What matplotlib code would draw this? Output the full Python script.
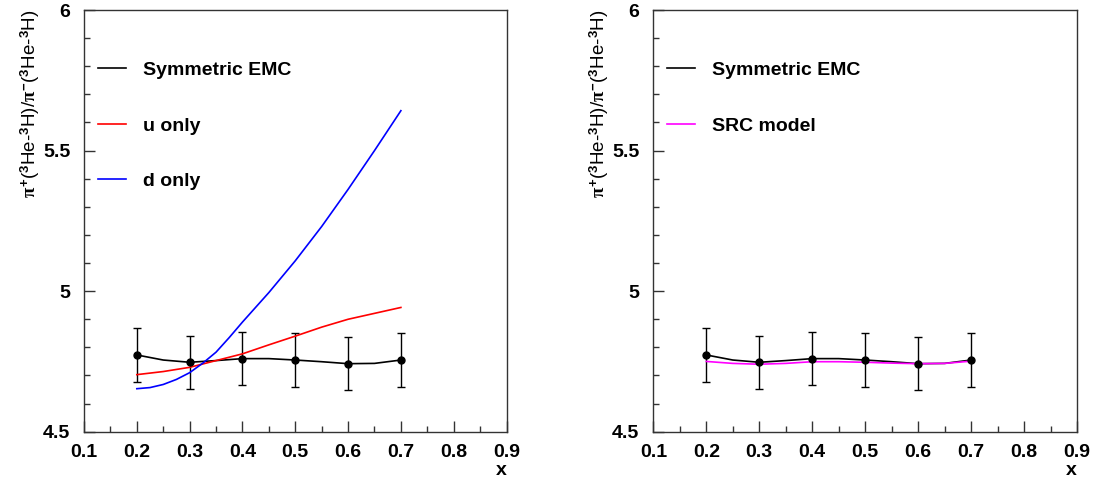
import numpy as np
import matplotlib
matplotlib.use("Agg")
import matplotlib.pyplot as plt
from matplotlib.ticker import MultipleLocator, FixedFormatter, FixedLocator

plt.rcParams['font.family'] = ['Liberation Sans', 'DejaVu Sans']
plt.rcParams['font.weight'] = 'bold'
plt.rcParams['mathtext.fontset'] = 'custom'
plt.rcParams['mathtext.rm'] = 'Liberation Sans:bold'
plt.rcParams['mathtext.bf'] = 'Liberation Sans:bold'
plt.rcParams['mathtext.it'] = 'Liberation Serif'

# data points (Symmetric EMC)
x_pts = [0.2, 0.3, 0.4, 0.5, 0.6, 0.7]
emc_pts = [4.773, 4.747, 4.760, 4.755, 4.742, 4.755]
emc_err = [0.096, 0.095, 0.095, 0.095, 0.095, 0.095]

# curves
x_curve = [0.2, 0.25, 0.3, 0.35, 0.4, 0.45, 0.5, 0.55, 0.6, 0.65, 0.7]
emc_curve = [4.773, 4.755, 4.747, 4.753, 4.760, 4.760, 4.755, 4.749, 4.742, 4.743, 4.755]
u_only = [4.703, 4.714, 4.729, 4.753, 4.777, 4.809, 4.840, 4.872, 4.900, 4.921, 4.942]
src_model = [4.750, 4.743, 4.740, 4.743, 4.749, 4.749, 4.747, 4.744, 4.742, 4.743, 4.751]

x_d = [0.2, 0.225, 0.25, 0.275, 0.3, 0.325, 0.35, 0.375, 0.4, 0.45, 0.5, 0.55, 0.6, 0.65, 0.7]
d_only = [4.653, 4.657, 4.668, 4.686, 4.710, 4.744, 4.783, 4.835, 4.890, 4.995, 5.108,
          5.230, 5.362, 5.500, 5.642]

xticks = [0.1, 0.2, 0.3, 0.4, 0.5, 0.6, 0.7, 0.8, 0.9]
xtick_labels = ["0.1", "0.2", "0.3", "0.4", "0.5", "0.6", "0.7", "0.8", "0.9"]
yticks = [4.5, 5, 5.5, 6]
ytick_labels = ["4.5", "5", "5.5", "6"]

ylabel = r'$\mathit{\pi}^{+}$($^{3}$He-$^{3}$H)/$\mathit{\pi}^{-}$($^{3}$He-$^{3}$H)'

fig = plt.figure(figsize=(10.94, 4.83), dpi=100)
ax1 = fig.add_axes([0.0768, 0.1062, 0.3862, 0.873])
ax2 = fig.add_axes([0.5972, 0.1062, 0.3873, 0.873])


def style_axes(ax):
    ax.set_xlim(0.1, 0.9)
    ax.set_ylim(4.5, 6)
    ax.xaxis.set_major_locator(FixedLocator(xticks))
    ax.xaxis.set_major_formatter(FixedFormatter(xtick_labels))
    ax.xaxis.set_minor_locator(MultipleLocator(0.05))
    ax.yaxis.set_major_locator(FixedLocator(yticks))
    ax.yaxis.set_major_formatter(FixedFormatter(ytick_labels))
    ax.yaxis.set_minor_locator(MultipleLocator(0.1))
    ax.tick_params(which='both', direction='in', top=False, right=False,
                   labelsize=14, width=1, color='#333333')
    ax.tick_params(axis='x', which='major', length=8, pad=9)
    ax.tick_params(axis='y', which='major', length=8, pad=10)
    ax.tick_params(which='minor', length=4)
    for lab in ax.get_xticklabels() + ax.get_yticklabels():
        lab.set_fontweight('bold')
    for s in ax.spines.values():
        s.set_linewidth(1)
        s.set_color('#333333')
    ax.set_xlabel('x', loc='right', fontsize=14, fontweight='bold')
    ax.xaxis.set_label_coords(1.0, -0.072)
    ax.set_ylabel(ylabel, loc='top', fontsize=13.5)
    ax.yaxis.set_label_coords(-0.10, 1.0)


def draw_emc(ax):
    ax.plot(x_curve, emc_curve, color='black', lw=1.2, label='Symmetric EMC')
    ax.errorbar(x_pts, emc_pts, yerr=emc_err, fmt='o', color='black',
                ms=5, elinewidth=1, capsize=3, capthick=1)


# left panel
draw_emc(ax1)
ax1.plot(x_curve, u_only, color='#ff0000', lw=1.2, label='u only')
ax1.plot(x_d, d_only, color='#0000ff', lw=1.2, label='d only')
style_axes(ax1)

# right panel
draw_emc(ax2)
ax2.plot(x_curve, src_model, color='#ff00ff', lw=1.2, label='SRC model')
style_axes(ax2)

for ax in (ax1, ax2):
    ax.legend(loc='upper left', bbox_to_anchor=(0.019, 0.892), frameon=False,
              handlelength=1.45, handletextpad=0.85,
              labelspacing=1.95, borderaxespad=0, borderpad=0.3,
              prop={'weight': 'bold', 'size': 14})

fig.savefig('out.png', dpi=100)
